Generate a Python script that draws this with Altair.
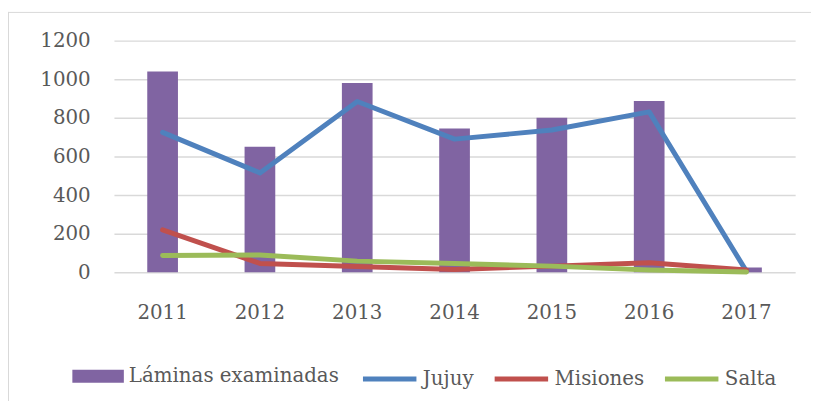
import altair as alt
import pandas as pd

years = ["2011", "2012", "2013", "2014", "2015", "2016", "2017"]
laminas = [1040, 650, 980, 745, 800, 887, 25]
jujuy = [725, 515, 885, 690, 737, 831, 5]
misiones = [220, 46, 30, 15, 32, 50, 12]
salta = [87, 90, 58, 46, 32, 12, 2]
y_ticks = [0, 200, 400, 600, 800, 1000, 1200]

bar_name = "Láminas examinadas"
line_names = ["Jujuy", "Misiones", "Salta"]
bar_color = "#8064A2"
line_colors = ["#4F81BD", "#C0504D", "#9BBB59"]

FONT = "DejaVu Serif"
TXT = "#595959"
GRID = "#D9D9D9"

bar_df = pd.DataFrame({"year": years, "value": laminas, "serie": bar_name})
line_df = pd.concat([
    pd.DataFrame({"year": years, "value": v, "serie": n})
    for n, v in zip(line_names, [jujuy, misiones, salta])
], ignore_index=True)

x_axis = alt.Axis(title=None, labelAngle=0, domain=False, ticks=False, grid=False,
                  labelPadding=31, labelFont=FONT, labelFontSize=20, labelColor=TXT)
y_axis = alt.Axis(title=None, values=y_ticks, format="d", domain=False, ticks=False, grid=True,
                  gridColor=GRID, gridWidth=1.5, labelPadding=24, labelFont=FONT,
                  labelFontSize=20, labelColor=TXT)
x_scale = alt.Scale(paddingInner=0, paddingOuter=0)
y_scale = alt.Scale(domain=[0, 1200])

bars = alt.Chart(bar_df).mark_bar(size=31).encode(
    x=alt.X("year:N", sort=years, scale=x_scale, axis=x_axis),
    y=alt.Y("value:Q", scale=y_scale, axis=y_axis),
    fill=alt.Fill("serie:N", scale=alt.Scale(domain=[bar_name], range=[bar_color]),
                  legend=alt.Legend(title=None, orient="none", legendX=-43, legendY=312,
                                    symbolType="M-0.963,-0.24H0.963V0.24H-0.963Z",
                                    symbolSize=2916, symbolStrokeWidth=0, padding=0,
                                    labelFont=FONT, labelFontSize=20, labelColor=TXT,
                                    labelOffset=4, labelLimit=400)),
)

lines = alt.Chart(line_df).mark_line(strokeWidth=5, strokeCap="round", strokeJoin="round").encode(
    x=alt.X("year:N", sort=years, scale=x_scale, axis=x_axis, bandPosition=0.5),
    y=alt.Y("value:Q", scale=y_scale, axis=y_axis),
    stroke=alt.Stroke("serie:N", scale=alt.Scale(domain=line_names, range=line_colors),
                      legend=alt.Legend(title=None, orient="none", legendX=249, legendY=312,
                                        direction="horizontal",
                                        symbolType="M-1,0H1", symbolSize=2916,
                                        symbolStrokeWidth=5, padding=0, columnPadding=10,
                                        labelFont=FONT, labelFontSize=20, labelColor=TXT,
                                        labelOffset=4, labelLimit=400)),
)

frame_df = pd.DataFrame({"k": [0]})
frame_left = alt.Chart(frame_df).mark_rule(color=GRID, strokeWidth=1).encode(
    x=alt.value(-106.5), y=alt.value(-29), y2=alt.value(372))
frame_top = alt.Chart(frame_df).mark_rule(color=GRID, strokeWidth=1).encode(
    x=alt.value(-107), x2=alt.value(704), y=alt.value(-28.5))

chart = alt.layer(frame_left, frame_top, bars, lines).properties(
    width=688, height=234,
    autosize=alt.AutoSizeParams(type="none"),
    padding={"left": 107, "top": 31, "right": 16, "bottom": 128},
).configure_view(stroke=None)

chart.save("out.html", embed_options={"renderer": "svg", "actions": False})
